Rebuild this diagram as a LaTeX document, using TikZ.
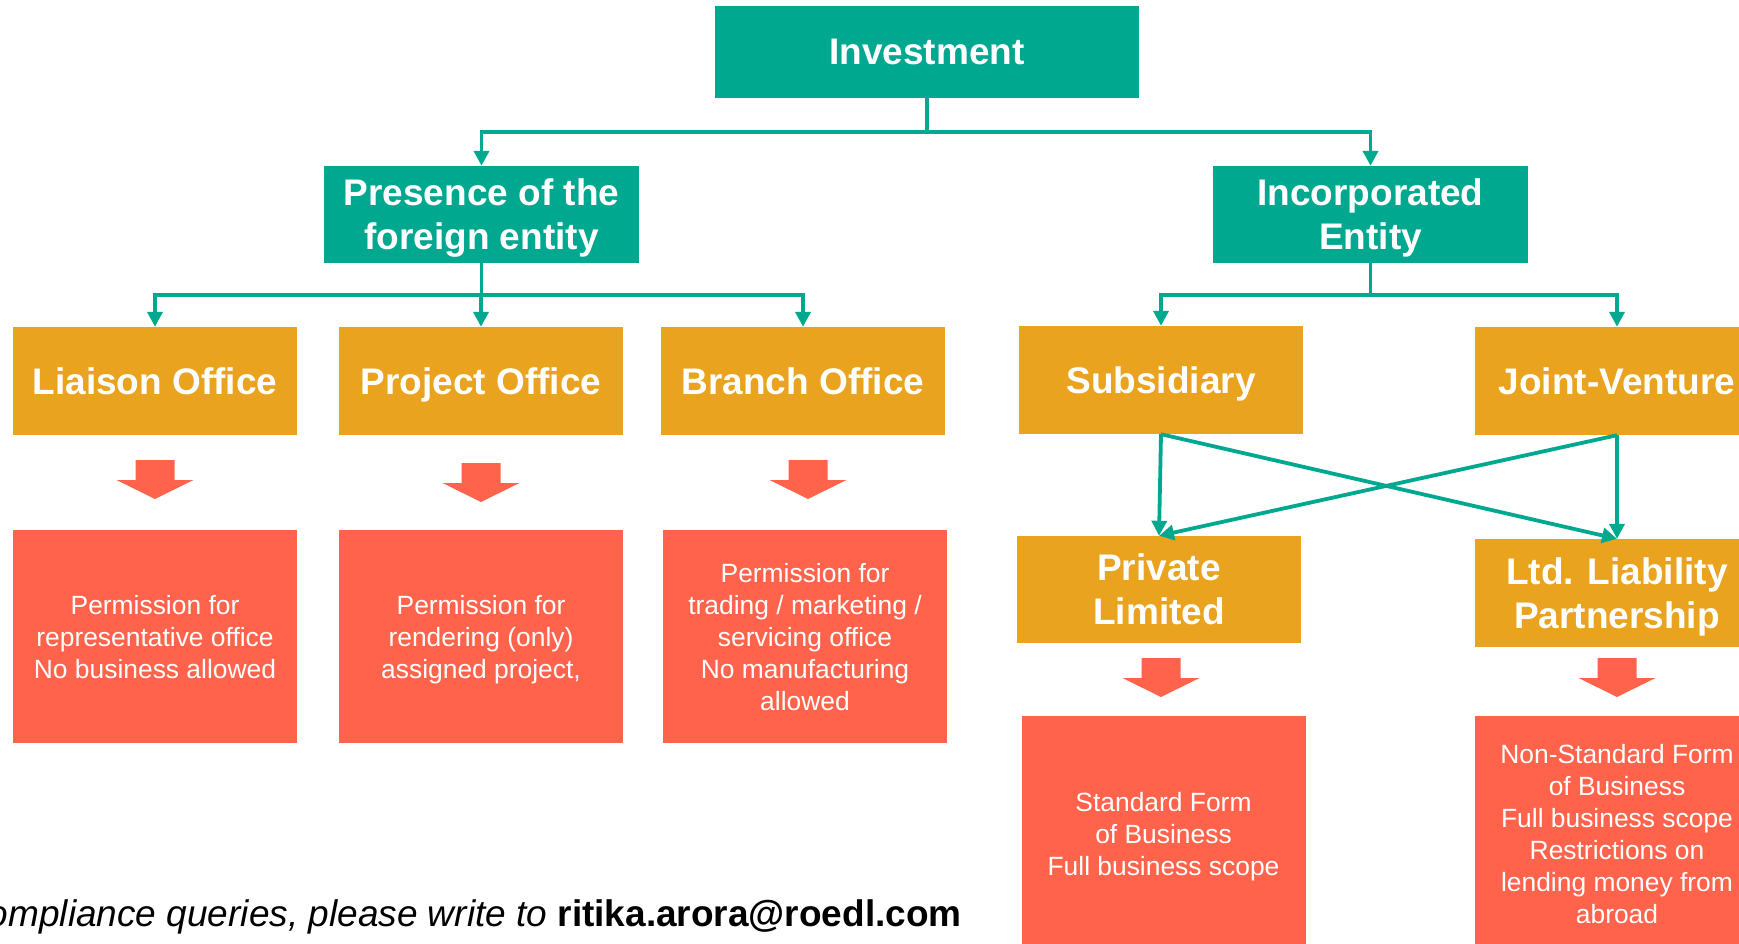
\documentclass[tikz,border=0pt]{standalone}
\usepackage{fontspec}
\setmainfont{Liberation Sans}
\usetikzlibrary{arrows.meta}
\definecolor{invteal}{RGB}{0,168,143}
\definecolor{officeorange}{RGB}{233,163,31}
\definecolor{scopered}{RGB}{255,99,75}
\tikzset{
  headbox/.style={fill=#1, text=white, inner sep=0pt, align=center, text depth=0pt,
    font=\fontsize{37}{44}\selectfont\bfseries},
  tealbox/.style={headbox=invteal, minimum width=315pt, minimum height=97pt},
  orangebox/.style={headbox=officeorange, minimum width=284pt, minimum height=108pt},
  scopebox/.style={fill=scopered, text=white, inner sep=0pt, align=center, text depth=0pt,
    minimum width=284pt, font=\fontsize{26.4}{32}\selectfont},
  link/.style={draw=invteal, line width=3.8pt, -{Triangle[length=15pt,width=15pt]}},
}
\begin{document}
\begin{tikzpicture}[x=1pt,y=-1pt]
  \useasboundingbox (0,0) rectangle (1739,943);
  % top of the tree
  \node[headbox=invteal, minimum width=424pt, minimum height=92pt] (inv) at (927,52) {Investment};
  \node[tealbox] (pres) at (481.5,214.5) {Presence of the\\foreign entity};
  \node[tealbox] (inc) at (1370.5,214.5) {Incorporated\\Entity};
  % offices and entities
  \node[orangebox] (liai) at (155,381) {Liaison Office};
  \node[orangebox] (proj) at (481,381) {Project Office};
  \node[orangebox] (bran) at (803,381) {Branch Office};
  \node[orangebox] (subs) at (1161,380) {Subsidiary};
  \node[orangebox] (jv) at (1617,381) {Joint-Venture};
  \node[orangebox, minimum height=107pt] (priv) at (1159,589.5) {Private\\Limited};
  \node[orangebox] (llp) at (1617,593) {Ltd. Liability\\Partnership};
  % what each form may do
  \node[scopebox, minimum height=213pt] (liaiR) at (155,636.5)
    {Permission for\\representative office\\No business allowed};
  \node[scopebox, minimum height=213pt] (projR) at (481,636.5)
    {Permission for\\rendering (only)\\assigned project,};
  \node[scopebox, minimum height=213pt] (branR) at (805,636.5)
    {Permission for\\trading / marketing /\\servicing office\\No manufacturing\\allowed};
  \node[scopebox, minimum height=236pt] (privR) at (1163.5,834)
    {Standard Form\\of Business\\Full business scope};
  \node[scopebox, minimum height=236pt] (llpR) at (1617,834)
    {Non-Standard Form\\of Business\\Full business scope\\Restrictions on\\lending money from\\abroad};

  \draw[link] (inv.south) -- +(0,34) -| (pres.north);
  \draw[link] (inv.south) -- +(0,34) -| (inc.north);
  \foreach \n in {liai,proj,bran}
    \draw[link] (pres.south) -- +(0,32) -| (\n.north);
  \foreach \n in {subs,jv}
    \draw[link] (inc.south) -- +(0,32) -| (\n.north);
  \foreach \a/\b in {subs/priv,subs/llp,jv/llp,jv/priv}
    \draw[link] (\a.south) -- (\b.north);

  % block arrows
  \foreach \x/\y in {155/460,481/463,808/460,1161/658,1617/658}
    \fill[scopered] ({\x-19.5},\y) -- ({\x+19.5},\y) -- ({\x+19.5},\y+20)
      -- ({\x+38.5},\y+20) -- (\x,\y+39) -- ({\x-38.5},\y+20)
      -- ({\x-19.5},\y+20) -- cycle;

  \node[anchor=base east, inner sep=0pt, font=\fontsize{37}{44}\selectfont] (mail) at (962,926)
    {\itshape ompliance queries, please write to \upshape\bfseries ritika.arora@roedl.com};
\end{tikzpicture}
\end{document}
